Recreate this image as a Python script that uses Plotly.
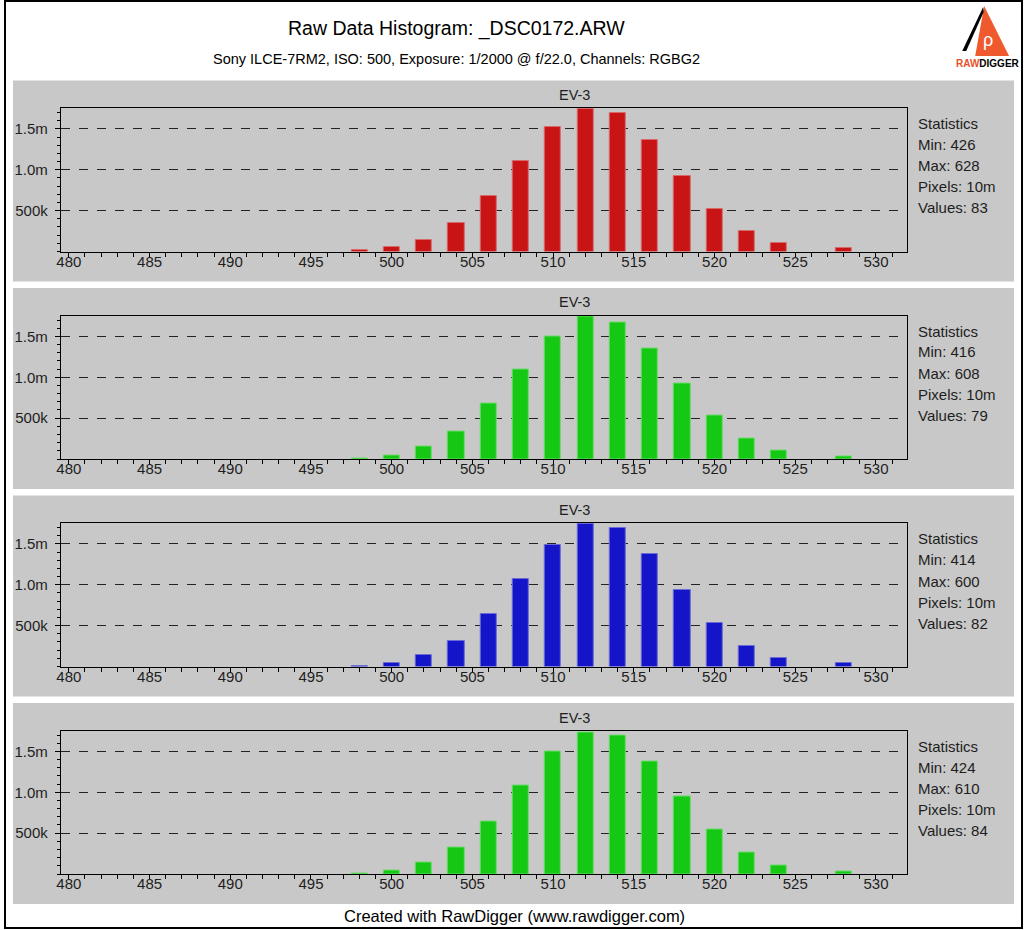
import plotly.graph_objects as go

W, H = 1024, 930

# ---- data ----
bins = [498, 500, 502, 504, 506, 508, 510, 512, 514, 516, 518, 520, 522, 524, 528]
red = [24e3, 57e3, 146e3, 350e3, 675e3, 1106e3, 1524e3, 1748e3, 1691e3, 1362e3, 918e3, 524e3, 256e3, 106e3, 49e3]
green1 = [12e3, 45e3, 151e3, 341e3, 679e3, 1094e3, 1505e3, 1745e3, 1667e3, 1350e3, 919e3, 533e3, 252e3, 106e3, 33e3]
blue = [12e3, 49e3, 141e3, 317e3, 646e3, 1073e3, 1490e3, 1745e3, 1700e3, 1378e3, 934e3, 537e3, 256e3, 110e3, 37e3]
green2 = [10e3, 45e3, 139e3, 328e3, 643e3, 1078e3, 1500e3, 1737e3, 1700e3, 1380e3, 950e3, 541e3, 258e3, 102e3, 33e3]

series = [red, green1, blue, green2]
colors = ["#C81414", "#14C814", "#1414C8", "#14C814"]
edge_colors = ["#D86A6A", "#6ADA6A", "#6A6AD8", "#6ADA6A"]
panel_titles = ["EV-3", "EV-3", "EV-3", "EV-3"]
stats = [
    ["Statistics", "Min: 426", "Max: 628", "Pixels: 10m", "Values: 83"],
    ["Statistics", "Min: 416", "Max: 608", "Pixels: 10m", "Values: 79"],
    ["Statistics", "Min: 414", "Max: 600", "Pixels: 10m", "Values: 82"],
    ["Statistics", "Min: 424", "Max: 610", "Pixels: 10m", "Values: 84"],
]
y_tickvals = [500000, 1000000, 1500000]
y_ticktext = ["500k", "1.0m", "1.5m"]

title = "Raw Data Histogram: _DSC0172.ARW"
subtitle = "Sony ILCE-7RM2, ISO: 500, Exposure: 1/2000 @ f/22.0, Channels: RGBG2"
footer = "Created with RawDigger (www.rawdigger.com)"

# ---- layout geometry (pixels) ----
plot_tops = [108, 315.5, 523, 730.5]
plot_h = 143.5
plot_left, plot_right = 57, 907
panel_left, panel_right = 9, 1014

FONT = "Liberation Sans, Arial, sans-serif"
TXT = "#1e1e1e"
GRAY = "#C8C8C8"


def px(x):
    return x / W


def py(y):
    return 1 - y / H


fig = go.Figure()
shapes = []
annotations = []

# outer border
shapes.append(dict(type="rect", xref="paper", yref="paper", x0=px(1), x1=px(1022), y0=py(928), y1=py(1),
                   line=dict(color="black", width=2), fillcolor="rgba(0,0,0,0)", layer="above"))

for i in range(4):
    t = plot_tops[i]
    b = t + plot_h
    sfx = "" if i == 0 else str(i + 1)
    # panel background
    shapes.append(dict(type="rect", xref="paper", yref="paper", x0=px(panel_left), x1=px(panel_right),
                       y0=py(b + 30), y1=py(t - 27.5), fillcolor=GRAY, line=dict(width=0), layer="below"))
    fig.add_trace(go.Bar(
        x=bins, y=series[i], width=1.0,
        marker=dict(color=colors[i], line=dict(color=edge_colors[i], width=1)),
        xaxis="x" + sfx, yaxis="y" + sfx, showlegend=False, hoverinfo="skip",
    ))
    fig.layout["xaxis" + sfx] = dict(
        domain=[px(plot_left), px(plot_right)], anchor="y" + sfx, range=[479.5, 531.95],
        tick0=480, dtick=5, ticks="outside", ticklen=5, tickcolor="black", tickwidth=1,
        minor=dict(dtick=1, tick0=480, ticks="outside", ticklen=4, tickcolor="black", showgrid=False),
        showgrid=False, zeroline=False, showline=True, linecolor="black", linewidth=1, mirror=True,
        tickfont=dict(family=FONT, size=15, color=TXT), ticklabelstandoff=-9, fixedrange=True,
    )
    fig.layout["yaxis" + sfx] = dict(
        domain=[py(b), py(t)], anchor="x" + sfx, range=[0, 1.756e6],
        tickmode="array", tickvals=y_tickvals, ticktext=y_ticktext,
        ticks="outside", ticklen=5, tickcolor="black", tickwidth=1,
        minor=dict(tickmode="linear", tick0=0, dtick=100000, ticks="outside", ticklen=3,
                   tickcolor="black", showgrid=False),
        showgrid=True, gridcolor="#222222", griddash="dash", gridwidth=1,
        zeroline=False, showline=True, linecolor="black", linewidth=1, mirror=True,
        tickfont=dict(family=FONT, size=15, color=TXT), ticklabelstandoff=4, fixedrange=True,
    )
    annotations.append(dict(text=panel_titles[i], xref="paper", yref="paper", x=px(573), y=py(t - 13),
                            showarrow=False, xanchor="center", yanchor="middle",
                            font=dict(family=FONT, size=14.5, color=TXT)))
    offs = [15.5, 36.5, 58, 79, 100]
    for j, line in enumerate(stats[i]):
        annotations.append(dict(text=line, xref="paper", yref="paper", x=px(916), y=py(t + offs[j]),
                                showarrow=False, xanchor="left", yanchor="middle",
                                font=dict(family=FONT, size=15, color=TXT)))

# titles
annotations.append(dict(text=title, xref="paper", yref="paper", x=px(454), y=py(28), showarrow=False,
                        xanchor="center", yanchor="middle", font=dict(family=FONT, size=19.5, color="black")))
annotations.append(dict(text=subtitle, xref="paper", yref="paper", x=px(454), y=py(59), showarrow=False,
                        xanchor="center", yanchor="middle", font=dict(family=FONT, size=14.5, color="black")))
annotations.append(dict(text=footer, xref="paper", yref="paper", x=px(512), y=py(916), showarrow=False,
                        xanchor="center", yanchor="middle", font=dict(family=FONT, size=16.5, color="black")))


# logo
def path(points):
    s = "M " + " L ".join(f"{px(x):.5f},{py(y):.5f}" for x, y in points) + " Z"
    return s


shapes.append(dict(type="path", xref="paper", yref="paper", path=path([(984, 6), (1009, 56), (975, 56)]),
                   fillcolor="#EE5A2E", line=dict(width=0), layer="above"))
shapes.append(dict(type="path", xref="paper", yref="paper",
                   path=path([(983, 7), (962, 51), (966, 51), (983.5, 12)]),
                   fillcolor="black", line=dict(width=0), layer="above"))
annotations.append(dict(text="ρ", xref="paper", yref="paper", x=px(988), y=py(40), showarrow=False,
                        xanchor="center", yanchor="middle", font=dict(family=FONT, size=18, color="white")))
annotations.append(dict(text="<b><span style='color:#E8502A'>RAW</span>DIGGER</b>", xref="paper", yref="paper",
                        x=px(988), y=py(63), showarrow=False, xanchor="center", yanchor="middle",
                        font=dict(family="Liberation Sans Narrow, Liberation Sans, Arial", size=10, color="black")))

fig.update_layout(
    width=W, height=H, margin=dict(l=0, r=0, t=0, b=0),
    paper_bgcolor="white", plot_bgcolor=GRAY,
    shapes=shapes, annotations=annotations, bargap=0, showlegend=False,
)

fig.write_html("out.html", config={"displayModeBar": False})
